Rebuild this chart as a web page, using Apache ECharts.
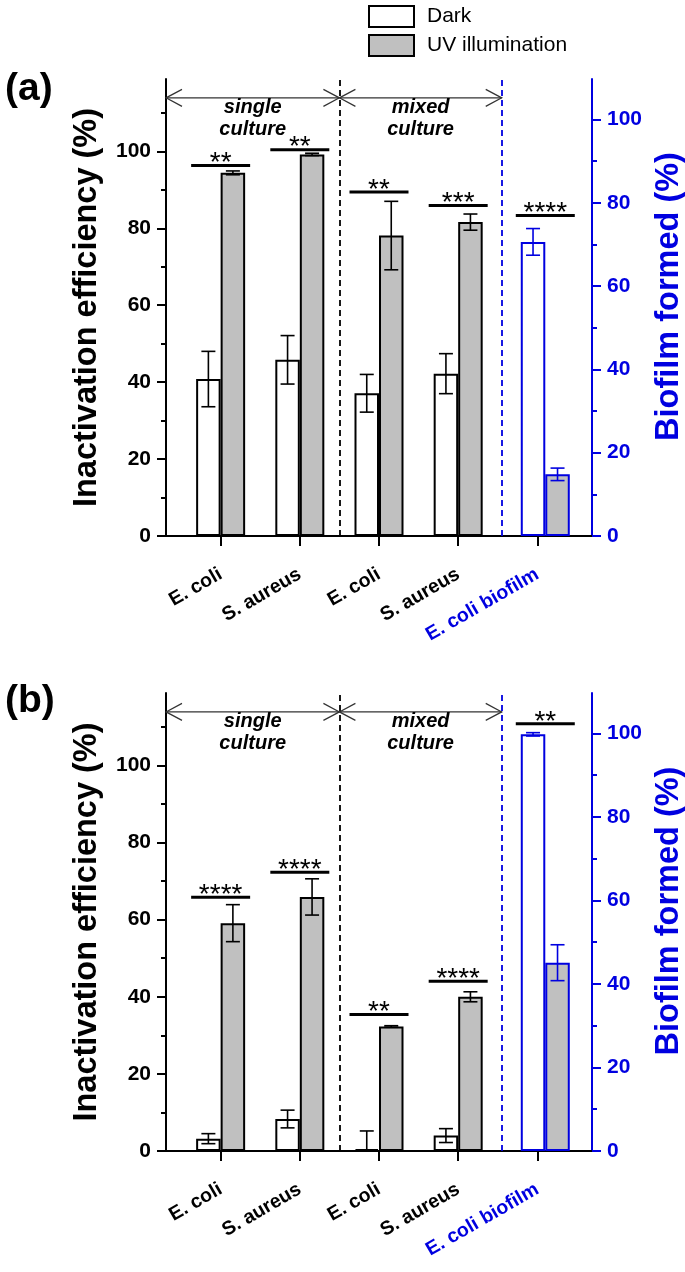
<!DOCTYPE html>
<html>
<head>
<meta charset="utf-8">
<script src="https://cdn.jsdelivr.net/npm/echarts@6/dist/echarts.min.js"></script>
<style>
html,body{margin:0;padding:0;background:#fff;}
#chart{width:685px;height:1272px;}
</style>
</head>
<body>
<div id="chart"></div>
<script>
// ---------------- data ----------------
const categories = ['E. coli', 'S. aureus', 'E. coli', 'S. aureus', 'E. coli biofilm'];
const catPositions = [1, 2, 3, 4, 5];
const leftTicks = [0, 20, 40, 60, 80, 100];
const leftMinorTicks = [10, 30, 50, 70, 90, 110];
const rightTicks = [0, 20, 40, 60, 80, 100];
const rightMinorTicks = [10, 30, 50, 70, 90];

// panel (a)
const darkA = [40.8, 45.8, 37.1, 42.2, 70.6];
const darkErrA = [7.2, 6.3, 4.9, 5.2, 3.2];
const uvA = [94.4, 99.2, 78.1, 81.6, 14.8];
const uvErrA = [0.5, 0.3, 8.9, 2.1, 1.5];
const sigHeightA = [96.3, 100.4, 89.4, 85.9, 83.3];
const sigStarsA = ['**', '**', '**', '***', '****'];

// panel (b)
const darkB = [3.2, 8.3, 0.5, 4.0, 99.8];
const darkErrB = [1.3, 2.3, 4.7, 1.8, 0.4];
const uvB = [59.1, 65.9, 32.3, 40.0, 45.1];
const uvErrB = [4.8, 4.7, 0.2, 1.3, 4.3];
const sigHeightB = [65.8, 72.3, 35.4, 44.0, 110.8];
const sigStarsB = ['****', '****', '**', '****', '**'];

// culture regions (x boundaries) and labels
const regionBounds = [0.31, 2.5, 4.55];
const regionLabels = ['single\nculture', 'mixed\nculture'];
const xMin = 0.31, xMax = 5.69;
const leftMax = 118.8, rightMax = 109.7;

// ---------------- style ----------------
const FONT = '"Liberation Sans", Arial, Helvetica, sans-serif';
const BLUE = '#0000e0';
const GRAY = '#c0c0c0';
const BAR_W = 24.5;
const PX_PER_UNIT = 426 / (xMax - xMin);
const OFF = (BAR_W / 2) / PX_PER_UNIT;
const GROUP_SHIFT = [0, 0, 0, 0, 0.1]; // biofilm group drawn slightly right of its tick

const chart = echarts.init(document.getElementById('chart'), null, {renderer: 'canvas'});

const grids = [
  {left: 166, top: 79, width: 426, height: 457, containLabel: false, outerBoundsMode: 'none'},
  {left: 166, top: 693, width: 426, height: 458, containLabel: false, outerBoundsMode: 'none'}
];

const xAxes = [], yAxes = [], series = [];

function gx(i) { return catPositions[i] + GROUP_SHIFT[i]; }

function errRender(color) {
  return function (params, api) {
    const x = api.value(0), v = api.value(1), e = api.value(2);
    const t = api.coord([x, v + e]);
    const b = api.coord([x, Math.max(0, v - e)]);
    const cap = 7;
    const st = {stroke: color, lineWidth: 1.6};
    const ch = [
      {type: 'line', shape: {x1: t[0], y1: t[1], x2: b[0], y2: b[1]}, style: st},
      {type: 'line', shape: {x1: t[0] - cap, y1: t[1], x2: t[0] + cap, y2: t[1]}, style: st}
    ];
    if (v - e > 0) ch.push({type: 'line', shape: {x1: b[0] - cap, y1: b[1], x2: b[0] + cap, y2: b[1]}, style: st});
    return {type: 'group', children: ch};
  };
}

function addPanel(p, dark, darkErr, uv, uvErr, sigH, sigS) {
  const xi = xAxes.length;
  const yi = yAxes.length;
  xAxes.push({
    gridIndex: p, type: 'value', min: xMin, max: xMax, position: 'bottom',
    axisLine: {show: true, lineStyle: {color: '#000', width: 2}},
    axisTick: {show: true, customValues: catPositions, length: 10, inside: false, lineStyle: {color: '#000', width: 2}},
    splitLine: {show: false},
    axisLabel: {
      show: true, customValues: catPositions, rotate: 30, margin: 37,
      formatter: function (v) {
        const i = Math.round(v) - 1;
        return (i === 4 ? '{b|' : '{a|') + categories[i] + '}';
      },
      rich: {
        a: {color: '#000', fontWeight: 'bold', fontSize: 19.5, fontFamily: FONT},
        b: {color: BLUE, fontWeight: 'bold', fontSize: 19.5, fontFamily: FONT}
      }
    }
  });
  xAxes.push({
    gridIndex: p, type: 'value', min: xMin, max: xMax, position: 'top',
    axisLine: {show: true, lineStyle: {color: '#000', width: 2}},
    axisTick: {show: false}, axisLabel: {show: false}, splitLine: {show: false}
  });
  yAxes.push({
    gridIndex: p, type: 'value', min: 0, max: leftMax, interval: 20, position: 'left',
    name: 'Inactivation efficiency (%)', nameLocation: 'middle', nameGap: 62, nameRotate: 90,
    nameTextStyle: {fontSize: 32.5, fontWeight: 'bold', color: '#000', fontFamily: FONT},
    axisLine: {show: true, lineStyle: {color: '#000', width: 2}},
    axisTick: {show: true, customValues: leftTicks, length: 9, lineStyle: {color: '#000', width: 2}},
    axisLabel: {show: true, customValues: leftTicks, margin: 15, fontSize: 21, fontWeight: 'bold', color: '#000', fontFamily: FONT},
    splitLine: {show: false}
  });
  yAxes.push({
    gridIndex: p, type: 'value', min: 0, max: leftMax, interval: 10, position: 'left',
    axisLine: {show: false},
    axisTick: {show: true, customValues: leftMinorTicks, length: 5, lineStyle: {color: '#000', width: 2}},
    axisLabel: {show: false}, splitLine: {show: false}
  });
  yAxes.push({
    gridIndex: p, type: 'value', min: 0, max: rightMax, interval: 20, position: 'right',
    name: 'Biofilm formed (%)', nameLocation: 'middle', nameGap: 56, nameRotate: 90,
    nameTextStyle: {fontSize: 32.5, fontWeight: 'bold', color: BLUE, fontFamily: FONT, padding: [0, 0, 0, 22]},
    axisLine: {show: true, lineStyle: {color: BLUE, width: 2}},
    axisTick: {show: true, customValues: rightTicks, length: 9, lineStyle: {color: BLUE, width: 2}},
    axisLabel: {show: true, customValues: rightTicks, margin: 15, fontSize: 21, fontWeight: 'bold', color: BLUE, fontFamily: FONT},
    splitLine: {show: false}
  });
  yAxes.push({
    gridIndex: p, type: 'value', min: 0, max: rightMax, interval: 10, position: 'right',
    axisLine: {show: false},
    axisTick: {show: true, customValues: rightMinorTicks, length: 5, lineStyle: {color: BLUE, width: 2}},
    axisLabel: {show: false}, splitLine: {show: false}
  });

  const yL = yi, yR = yi + 2;
  const n = 4;
  const barCommon = {type: 'bar', xAxisIndex: xi, barWidth: BAR_W, barGap: '-100%', silent: true};

  series.push(Object.assign({}, barCommon, {
    name: 'Dark', yAxisIndex: yL,
    itemStyle: {color: '#fff', borderColor: '#000', borderWidth: 2},
    data: dark.slice(0, n).map((v, i) => [gx(i) - OFF, v]),
    markLine: {
      silent: true, symbol: 'none', label: {show: false}, animation: false,
      data: [
        {xAxis: regionBounds[1], lineStyle: {color: '#000', type: [6, 4], width: 1.8}},
        {xAxis: regionBounds[2], lineStyle: {color: BLUE, type: [6, 4], width: 1.8}}
      ]
    }
  }));
  series.push(Object.assign({}, barCommon, {
    name: 'UV illumination', yAxisIndex: yL,
    itemStyle: {color: GRAY, borderColor: '#000', borderWidth: 2},
    data: uv.slice(0, n).map((v, i) => [gx(i) + OFF, v])
  }));
  series.push(Object.assign({}, barCommon, {
    name: 'Dark', yAxisIndex: yR,
    itemStyle: {color: '#fff', borderColor: '#000', borderWidth: 2},
    data: [{value: [gx(4) - OFF, dark[4]], itemStyle: {borderColor: BLUE}}]
  }));
  series.push(Object.assign({}, barCommon, {
    name: 'UV illumination', yAxisIndex: yR,
    itemStyle: {color: GRAY, borderColor: '#000', borderWidth: 2},
    data: [{value: [gx(4) + OFF, uv[4]], itemStyle: {borderColor: BLUE}}]
  }));

  const errL = [];
  for (let i = 0; i < n; i++) {
    errL.push([gx(i) - OFF, dark[i], darkErr[i]]);
    errL.push([gx(i) + OFF, uv[i], uvErr[i]]);
  }
  series.push({type: 'custom', xAxisIndex: xi, yAxisIndex: yL, silent: true, z: 5,
    renderItem: errRender('#000'), data: errL});
  series.push({type: 'custom', xAxisIndex: xi, yAxisIndex: yR, silent: true, z: 5,
    renderItem: errRender(BLUE),
    data: [[gx(4) - OFF, dark[4], darkErr[4]], [gx(4) + OFF, uv[4], uvErr[4]]]});

  series.push({
    type: 'custom', xAxisIndex: xi, yAxisIndex: yL, silent: true, z: 6,
    data: sigH.map((h, i) => [gx(i), h]),
    renderItem: function (params, api) {
      const c = api.coord([api.value(0), api.value(1)]);
      const half = 29.5;
      return {type: 'group', children: [
        {type: 'line', shape: {x1: c[0] - half, y1: c[1], x2: c[0] + half, y2: c[1]}, style: {stroke: '#000', lineWidth: 3}},
        {type: 'text', x: c[0], y: c[1] - 2, style: {text: sigS[params.dataIndex], fontSize: 28, fontFamily: FONT, fill: '#000', align: 'center', verticalAlign: 'middle'}}
      ]};
    }
  });

  series.push({
    type: 'custom', xAxisIndex: xi, yAxisIndex: yL, silent: true, z: 6,
    encode: {x: [0, 1], y: 2},
    data: regionLabels.map((t, i) => [regionBounds[i], regionBounds[i + 1], 113.9]),
    renderItem: function (params, api) {
      const a = api.coord([api.value(0), api.value(2)]);
      const b = api.coord([api.value(1), api.value(2)]);
      const st = {stroke: '#333', lineWidth: 1.2, fill: null};
      const L = 16, H = 8.5;
      return {type: 'group', children: [
        {type: 'line', shape: {x1: a[0], y1: a[1], x2: b[0], y2: b[1]}, style: st},
        {type: 'polyline', shape: {points: [[a[0] + L, a[1] - H], [a[0], a[1]], [a[0] + L, a[1] + H]]}, style: st},
        {type: 'polyline', shape: {points: [[b[0] - L, b[1] - H], [b[0], b[1]], [b[0] - L, b[1] + H]]}, style: st},
        {type: 'text', x: (a[0] + b[0]) / 2, y: a[1] + 21, style: {
          text: regionLabels[params.dataIndex], fontSize: 20, fontWeight: 'bold', fontStyle: 'italic',
          fontFamily: FONT, fill: '#000', align: 'center', verticalAlign: 'middle', lineHeight: 22}}
      ]};
    }
  });
}

addPanel(0, darkA, darkErrA, uvA, uvErrA, sigHeightA, sigStarsA);
addPanel(1, darkB, darkErrB, uvB, uvErrB, sigHeightB, sigStarsB);

chart.setOption({
  animation: false,
  backgroundColor: '#fff',
  title: [
    {text: '(a)', left: 0, top: 65, textStyle: {fontSize: 39, fontWeight: 'bold', color: '#000', fontFamily: FONT}},
    {text: '(b)', left: 0, top: 677, textStyle: {fontSize: 39, fontWeight: 'bold', color: '#000', fontFamily: FONT}}
  ],
  legend: {
    left: 368, top: 5, orient: 'vertical', itemWidth: 45, itemHeight: 21, itemGap: 6,
    icon: 'rect', selectedMode: false, padding: 0,
    data: ['Dark', 'UV illumination'],
    textStyle: {fontSize: 21, color: '#000', fontFamily: FONT, padding: [0, 0, 0, 8]}
  },
  grid: grids,
  xAxis: xAxes,
  yAxis: yAxes,
  series: series
});
</script>
</body>
</html>
